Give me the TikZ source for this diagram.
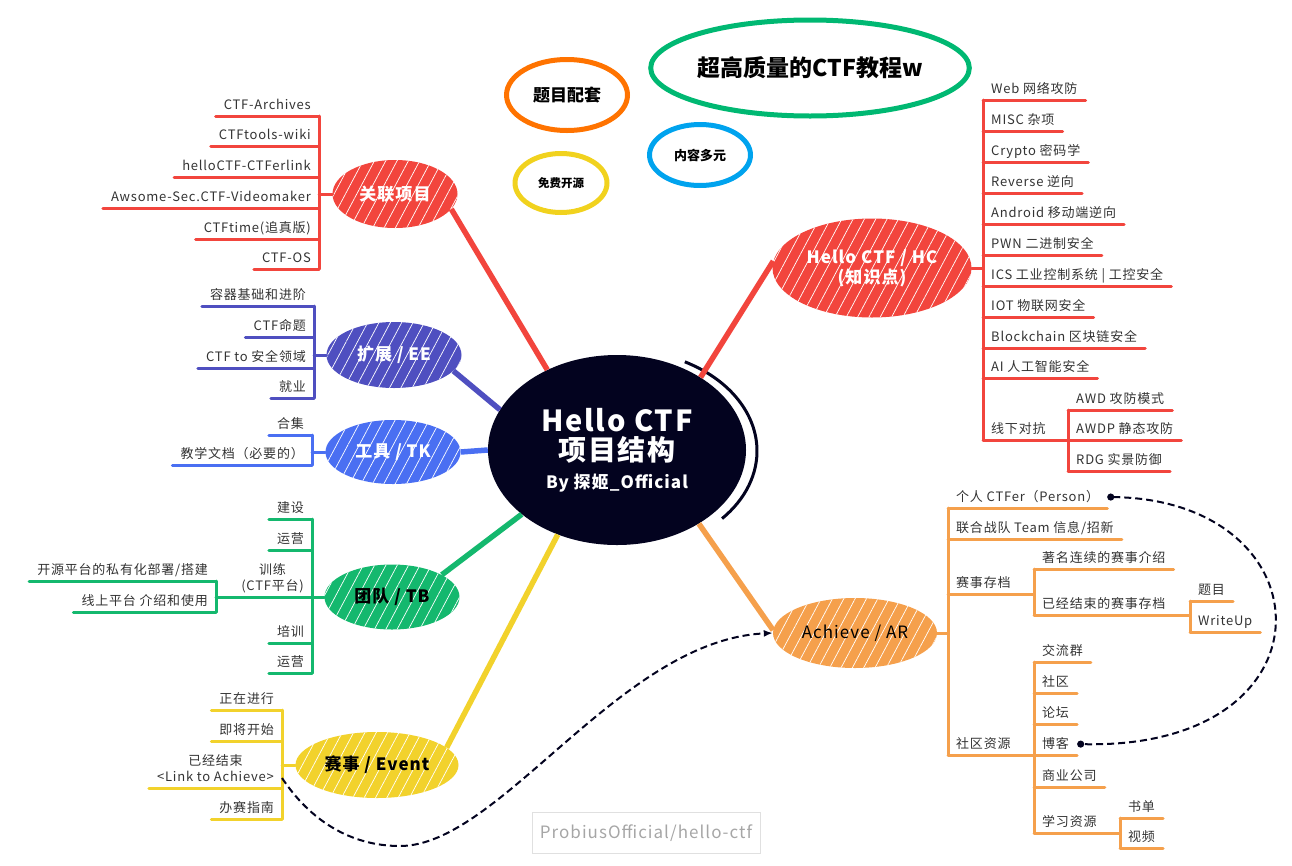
\documentclass[tikz,border=0pt]{standalone}
\usepackage{fontspec}
\setmainfont{Noto Sans CJK SC}
\newfontfamily\leaffont[LetterSpace=6]{Noto Sans CJK SC}
\usepackage{tikz}
\usetikzlibrary{shapes.geometric,arrows.meta,patterns.meta}

\definecolor{hcRed}{HTML}{F2453D}
\definecolor{hcIndigo}{HTML}{4F4FC0}
\definecolor{hcBlue}{HTML}{4A6FF2}
\definecolor{hcGreen}{HTML}{14B86E}
\definecolor{hcYellow}{HTML}{F2D22C}
\definecolor{hcOrange}{HTML}{F5A04C}
\definecolor{hcNavy}{HTML}{03031F}
\definecolor{bGreen}{HTML}{00B872}
\definecolor{bOrange}{HTML}{FF7300}
\definecolor{bBlue}{HTML}{00A3EE}
\definecolor{bYellow}{HTML}{F1D21E}

\begin{document}
\begin{tikzpicture}[x=1pt, y=-1pt,
        every node/.style={font=\leaffont\fontsize{13}{16}\selectfont, text=black!80},
        hub/.style={ellipse, fill=#1, inner sep=0pt, align=center},
        branch/.style={ellipse, fill=#1, inner sep=0pt, text=white, font=\leaffont\fontsize{17}{20}\selectfont\bfseries,
            postaction={fill opacity=0.22, pattern={Lines[angle=62, distance=10pt, line width=0.7pt]}, pattern color=white}},
        bubble/.style={ellipse, draw=#1, line width=5pt, inner sep=0pt, text=black},
        leafL/.style={anchor=south east, inner xsep=8pt, inner ysep=4pt, text depth=0.25em},
        leafR/.style={anchor=south west, inner xsep=8pt, inner ysep=4pt, text depth=0.25em},
        trunk/.style={draw=#1, line width=5.5pt},
        twig/.style={draw=#1, line width=3pt, line cap=round},
        dashlink/.style={draw=hcNavy, line width=2pt, dash pattern=on 7pt off 4pt}
    ]
    \useasboundingbox (0,0) rectangle (1292,865);

    % Center
    \node[hub=hcNavy, minimum width=258pt, minimum height=190pt, text=white] (M) at (617,450)
        {\fontsize{29}{34}\selectfont\bfseries Hello CTF\\[4pt]
         \fontsize{28}{34}\selectfont\bfseries 项目结构\\[9pt]
         \fontsize{17}{20}\selectfont\bfseries By 探姬\_Official};
    \draw[hcNavy, line width=3pt] ([shift={(4,1)}]M.center) ++(-62:136 and 101)
        arc[start angle=-62, end angle=42, x radius=136, y radius=101];

    % Floating bubbles
    \node[bubble=bGreen, minimum width=300pt, minimum height=96pt, font=\fontsize{23}{26}\selectfont\bfseries] (F1) at (810,68) {超高质量的CTF教程w};
    \node[bubble=bOrange, minimum width=121pt, minimum height=71pt, font=\fontsize{17}{20}\selectfont\bfseries] (F2) at (567,95) {题目配套};
    \node[bubble=bBlue, minimum width=101pt, minimum height=61pt, font=\fontsize{13}{16}\selectfont\bfseries] (F3) at (700,155) {内容多元};
    \node[bubble=bYellow, minimum width=92pt, minimum height=59pt, font=\fontsize{11.5}{14}\selectfont\bfseries] (F4) at (561,183) {免费开源};

    % Main branches
    \node[branch=hcRed, minimum width=125pt, minimum height=68pt] (B1) at (395,194) {关联项目};
    \node[branch=hcIndigo, minimum width=135pt, minimum height=66pt] (B2) at (394,355) {扩展 / EE};
    \node[branch=hcBlue, minimum width=135pt, minimum height=64pt] (B3) at (393,452) {工具 / TK};
    \node[branch=hcGreen, minimum width=135pt, minimum height=65pt, text=black] (B4) at (392,597) {团队 / TB};
    \node[branch=hcYellow, minimum width=163pt, minimum height=66pt, text=black] (B5) at (377,765) {赛事 / Event};
    \node[branch=hcRed, minimum width=199pt, minimum height=99pt, align=center] (B6) at (872,268) {Hello CTF / HC\\(知识点)};
    \node[branch=hcOrange, minimum width=164pt, minimum height=70pt, text=black, font=\leaffont\fontsize{17}{20}\selectfont] (B7) at (855,633) {Achieve / AR};

    % Trunks
    \draw[trunk=hcRed] (M.131) -- (B1.-15);
    \draw[trunk=hcIndigo] (M.161) -- (B2.-15);
    \draw[trunk=hcBlue] (M.180) -- (B3.0);
    \draw[trunk=hcGreen] (M.214) -- (B4.24);
    \draw[trunk=hcYellow] (M.235) -- (B5.14);
    \draw[trunk=hcRed] (M.41) -- (B6.176);
    \draw[trunk=hcOrange] (M.-42) -- (B7.178);

    % 关联项目
    \node[leafL] (R1) at (319,116) {CTF-Archives};
    \node[leafL] (R2) at (319,146) {CTFtools-wiki};
    \node[leafL] (R3) at (319,177) {helloCTF-CTFerlink};
    \node[leafL] (R4) at (319,208) {Awsome-Sec.CTF-Videomaker};
    \node[leafL] (R5) at (319,239) {CTFtime(追真版)};
    \node[leafL] (R6) at (319,269) {CTF-OS};
    \draw[twig=hcRed] (R1.south west) -- (R1.south east) (R2.south west) -- (R2.south east)
        (R3.south west) -- (R3.south east) (R4.south west) -- (R4.south east)
        (R5.south west) -- (R5.south east) (R6.south west) -- (R6.south east);
    \draw[twig=hcRed] (R1.south east) -- (R6.south east);
    \draw[twig=hcRed] (B1) -- (B1 -| R1.south east);

    % 扩展 / EE
    \node[leafL] (E1) at (314,306) {容器基础和进阶};
    \node[leafL] (E2) at (314,337) {CTF命题};
    \node[leafL] (E3) at (314,368) {CTF to 安全领域};
    \node[leafL] (E4) at (314,398) {就业};
    \draw[twig=hcIndigo] (E1.south west) -- (E1.south east) (E2.south west) -- (E2.south east)
        (E3.south west) -- (E3.south east) (E4.south west) -- (E4.south east);
    \draw[twig=hcIndigo] (E1.south east) -- (E4.south east);
    \draw[twig=hcIndigo] (B2) -- (B2 -| E1.south east);

    % 工具 / TK
    \node[leafL] (T1) at (312,435) {合集};
    \node[leafL] (T2) at (312,465) {教学文档（必要的）};
    \draw[twig=hcBlue] (T1.south west) -- (T1.south east) (T2.south west) -- (T2.south east);
    \draw[twig=hcBlue] (T1.south east) -- (T2.south east);
    \draw[twig=hcBlue] (B3) -- (B3 -| T1.south east);

    % 团队 / TB
    \node[leafL] (G1) at (312,519) {建设};
    \node[leafL] (G2) at (312,550) {运营};
    \node[leafL, align=center] (G3) at (312,597) {训练\\(CTF平台)};
    \node[leafL] (G4) at (312,643) {培训};
    \node[leafL] (G5) at (312,673) {运营};
    \node[leafL] (G6) at (216,581) {开源平台的私有化部署/搭建};
    \node[leafL] (G7) at (216,612) {线上平台 介绍和使用};
    \draw[twig=hcGreen] (G1.south west) -- (G1.south east) (G2.south west) -- (G2.south east)
        (G3.south west) -- (G3.south east) (G4.south west) -- (G4.south east)
        (G5.south west) -- (G5.south east) (G6.south west) -- (G6.south east)
        (G7.south west) -- (G7.south east);
    \draw[twig=hcGreen] (G1.south east) -- (G5.south east);
    \draw[twig=hcGreen] (G6.south east) -- (G7.south east);
    \draw[twig=hcGreen] (G3.south west) -- (G3.south west -| G6.south east);
    \draw[twig=hcGreen] (B4) -- (B4 -| G1.south east);

    % 赛事 / Event
    \node[leafL] (V1) at (282,710) {正在进行};
    \node[leafL] (V2) at (282,741) {即将开始};
    \node[leafL, align=center] (V3) at (282,788) {已经结束\\<Link to Achieve>};
    \node[leafL] (V4) at (282,819) {办赛指南};
    \draw[twig=hcYellow] (V1.south west) -- (V1.south east) (V2.south west) -- (V2.south east)
        (V3.south west) -- (V3.south east) (V4.south west) -- (V4.south east);
    \draw[twig=hcYellow] (V1.south east) -- (V4.south east);
    \draw[twig=hcYellow] (B5) -- (B5 -| V1.south east);

    % Hello CTF / HC
    \node[leafR] (H1) at (983,100) {Web 网络攻防};
    \node[leafR] (H2) at (983,131) {MISC 杂项};
    \node[leafR] (H3) at (983,162) {Crypto 密码学};
    \node[leafR] (H4) at (983,193) {Reverse 逆向};
    \node[leafR] (H5) at (983,224) {Android 移动端逆向};
    \node[leafR] (H6) at (983,255) {PWN 二进制安全};
    \node[leafR] (H7) at (983,286) {ICS 工业控制系统 | 工控安全};
    \node[leafR] (H8) at (983,317) {IOT 物联网安全};
    \node[leafR] (H9) at (983,348) {Blockchain 区块链安全};
    \node[leafR] (H10) at (983,378) {AI 人工智能安全};
    \node[leafR] (H11) at (983,440) {线下对抗};
    \node[leafR] (H12) at (1068,410) {AWD 攻防模式};
    \node[leafR] (H13) at (1068,440) {AWDP 静态攻防};
    \node[leafR] (H14) at (1068,471) {RDG 实景防御};
    \draw[twig=hcRed] (H1.south west) -- (H1.south east) (H2.south west) -- (H2.south east)
        (H3.south west) -- (H3.south east) (H4.south west) -- (H4.south east)
        (H5.south west) -- (H5.south east) (H6.south west) -- (H6.south east)
        (H7.south west) -- (H7.south east) (H8.south west) -- (H8.south east)
        (H9.south west) -- (H9.south east) (H10.south west) -- (H10.south east)
        (H11.south west) -- (H11.south east) (H12.south west) -- (H12.south east)
        (H13.south west) -- (H13.south east) (H14.south west) -- (H14.south east);
    \draw[twig=hcRed] (H1.south west) -- (H11.south west);
    \draw[twig=hcRed] (H12.south west) -- (H14.south west);
    \draw[twig=hcRed] (H11.south east) -- (H11.south east -| H12.south west);
    \draw[twig=hcRed] (B6) -- (B6 -| H1.south west);

    % Achieve / AR
    \node[leafR] (A1) at (948,508) {个人 CTFer（Person）};
    \node[leafR] (A2) at (948,539) {联合战队 Team 信息/招新};
    \node[leafR] (A3) at (948,594) {赛事存档};
    \node[leafR] (A4) at (948,755) {社区资源};
    \node[leafR] (A5) at (1034,569) {著名连续的赛事介绍};
    \node[leafR] (A6) at (1034,615) {已经结束的赛事存档};
    \node[leafR] (A7) at (1190,601) {题目};
    \node[leafR] (A8) at (1190,632) {WriteUp};
    \node[leafR] (A9) at (1034,662) {交流群};
    \node[leafR] (A10) at (1034,693) {社区};
    \node[leafR] (A11) at (1034,724) {论坛};
    \node[leafR] (A12) at (1034,755) {博客};
    \node[leafR] (A13) at (1034,787) {商业公司};
    \node[leafR] (A14) at (1034,833) {学习资源};
    \node[leafR] (A15) at (1120,818) {书单};
    \node[leafR] (A16) at (1120,848) {视频};
    \draw[twig=hcOrange] (A1.south west) -- (A1.south east) (A2.south west) -- (A2.south east)
        (A3.south west) -- (A3.south east) (A4.south west) -- (A4.south east)
        (A5.south west) -- (A5.south east) (A6.south west) -- (A6.south east)
        (A7.south west) -- (A7.south east) (A8.south west) -- (A8.south east)
        (A9.south west) -- (A9.south east) (A10.south west) -- (A10.south east)
        (A11.south west) -- (A11.south east) (A12.south west) -- (A12.south east)
        (A13.south west) -- (A13.south east) (A14.south west) -- (A14.south east)
        (A15.south west) -- (A15.south east) (A16.south west) -- (A16.south east);
    \draw[twig=hcOrange] (A1.south west) -- (A4.south west);
    \draw[twig=hcOrange] (A5.south west) -- (A6.south west);
    \draw[twig=hcOrange] (A7.south west) -- (A8.south west);
    \draw[twig=hcOrange] (A9.south west) -- (A14.south west);
    \draw[twig=hcOrange] (A15.south west) -- (A16.south west);
    \draw[twig=hcOrange] (A3.south east) -- (A3.south east -| A5.south west);
    \draw[twig=hcOrange] (A6.south east) -- (A6.south east -| A7.south west);
    \draw[twig=hcOrange] (A4.south east) -- (A4.south east -| A9.south west);
    \draw[twig=hcOrange] (A14.south east) -- (A14.south east -| A15.south west);
    \draw[twig=hcOrange] (B7) -- (B7 -| A1.south west);

    % Cross links
    \draw[dashlink, -{Latex[length=9pt,width=7pt]}] ([yshift=10pt]V3.south east)
        .. controls (310,820) and (350,846) .. (400,846)
        .. controls (500,846) and (620,640) .. (B7.west);
    \draw[dashlink, {Circle[length=7pt]}-{Circle[length=7pt]}] (A1.east)
        .. controls (1330,500) and (1340,750) .. (A12.east);

    % Watermark
    \node[draw=black!12, line width=1pt, text=black!35, minimum width=228pt, minimum height=41pt,
        font=\leaffont\fontsize{17}{20}\selectfont] (W) at (646,833) {ProbiusOfficial/hello-ctf};

\end{tikzpicture}
\end{document}
